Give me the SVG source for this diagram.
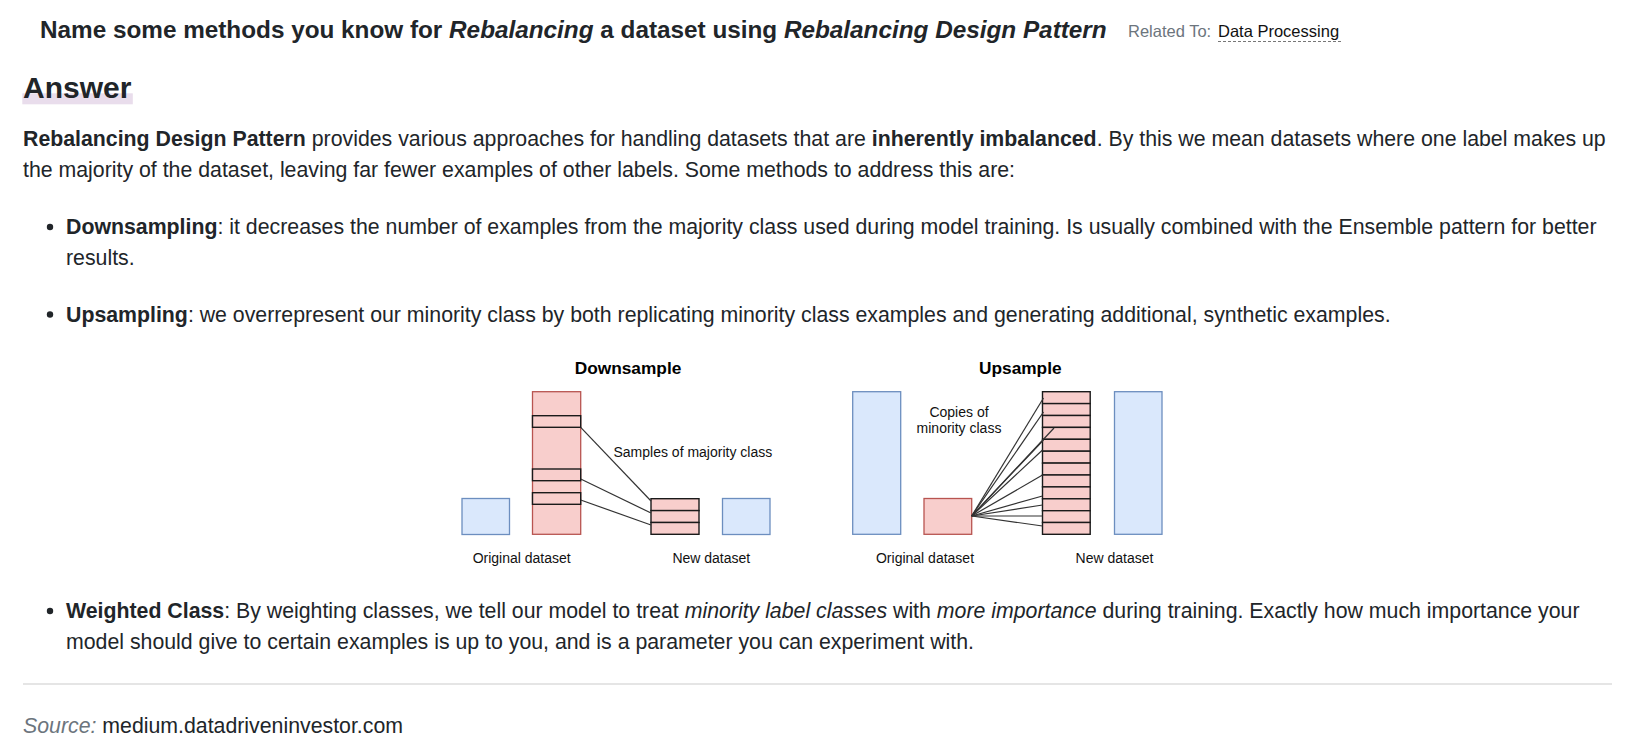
<svg xmlns="http://www.w3.org/2000/svg" width="1636" height="754" viewBox="0 0 1636 754">
<style>
text{font-family:"Liberation Sans",Arial,Helvetica,sans-serif;fill:#222;}
.title{font-size:24.3px;font-weight:bold;fill:#212529;}
.rel{font-size:16.5px;fill:#6c757d;}
.relv{font-size:16.5px;fill:#111;}
.h2{font-size:30px;font-weight:bold;fill:#212529;}
.body{font-size:21.3px;fill:#212529;}
.b{font-weight:bold;}
.i{font-style:italic;}
.src{fill:#6c757d;font-style:italic;}
.dt{font-size:17.3px;font-weight:bold;fill:#000;}
.lbl{font-size:14px;fill:#111;}
.red{fill:#f8cecc;stroke:#b85450;stroke-width:1.3;}
.blue{fill:#dae8fc;stroke:#6c8ebf;stroke-width:1.3;}
.cell{fill:#f8cecc;stroke:#1a1a1a;stroke-width:1.4;}
.con line{stroke:#333;stroke-width:1.2;}
</style>
<rect width="1636" height="754" fill="#fff"/>

<g id="header">
<text class="title" x="40" y="37.5">Name some methods you know for <tspan class="i">Rebalancing</tspan> a dataset using <tspan class="i">Rebalancing Design Pattern</tspan></text>
<text class="rel" x="1128" y="37">Related To:</text>
<text class="relv" x="1218" y="37">Data Processing</text>
<line x1="1218" y1="41.5" x2="1342" y2="41.5" stroke="#777" stroke-width="1" stroke-dasharray="3,2"/>
</g>

<g id="answer-heading">
<rect x="22.3" y="93.3" width="110.5" height="11" fill="#e9ddec"/>
<text class="h2" x="23" y="97.5">Answer</text>
</g>

<g id="intro">
<text class="body" x="23" y="146"><tspan class="b">Rebalancing Design Pattern</tspan> provides various approaches for handling datasets that are <tspan class="b">inherently imbalanced</tspan>. By this we mean datasets where one label makes up</text>
<text class="body" x="23" y="177">the majority of the dataset, leaving far fewer examples of other labels. Some methods to address this are:</text>
</g>

<g id="bullet-downsampling">
<circle cx="50" cy="227" r="3.2" fill="#212529"/>
<text class="body" x="66" y="234"><tspan class="b">Downsampling</tspan>: it decreases the number of examples from the majority class used during model training. Is usually combined with the Ensemble pattern for better</text>
<text class="body" x="66" y="265">results.</text>
</g>

<g id="bullet-upsampling">
<circle cx="50" cy="314.5" r="3.2" fill="#212529"/>
<text class="body" x="66" y="321.5"><tspan class="b">Upsampling</tspan>: we overrepresent our minority class by both replicating minority class examples and generating additional, synthetic examples.</text>
</g>

<g id="diagram">
<g id="downsample">
<text class="dt" x="628" y="374" text-anchor="middle">Downsample</text>
<g id="ds-original-minority"><rect class="blue" x="462" y="498.5" width="47.5" height="36"/></g>
<g id="ds-original-majority">
<rect class="red" x="532.5" y="391.7" width="48.2" height="142.6"/>
<rect class="cell" x="532.5" y="415.7" width="48.2" height="11.6"/>
<rect class="cell" x="532.5" y="469" width="48.2" height="11.7"/>
<rect class="cell" x="532.5" y="492.7" width="48.2" height="11.6"/>
</g>
<g id="ds-new-majority">
<rect class="cell" x="651" y="498.7" width="48" height="11.9"/>
<rect class="cell" x="651" y="510.6" width="48" height="11.9"/>
<rect class="cell" x="651" y="522.5" width="48" height="11.8"/>
</g>
<g id="ds-new-minority"><rect class="blue" x="722.5" y="498.5" width="47.5" height="36"/></g>
<text class="lbl" x="613.5" y="457.3">Samples of majority class</text>
<text class="lbl" x="521.7" y="563.3" text-anchor="middle">Original dataset</text>
<text class="lbl" x="711.3" y="563.3" text-anchor="middle">New dataset</text>
</g>

<g id="upsample">
<text class="dt" x="1020.3" y="374" text-anchor="middle">Upsample</text>
<g id="us-original-majority"><rect class="blue" x="852.7" y="391.7" width="48" height="142.6"/></g>
<g id="us-original-minority"><rect class="red" x="924" y="498.5" width="47.7" height="35.8"/></g>
<g id="us-new-minority">
<rect class="cell" x="1042.5" y="391.7" width="47.7" height="11.9"/>
<rect class="cell" x="1042.5" y="403.6" width="47.7" height="11.9"/>
<rect class="cell" x="1042.5" y="415.5" width="47.7" height="11.9"/>
<rect class="cell" x="1042.5" y="427.4" width="47.7" height="11.9"/>
<rect class="cell" x="1042.5" y="439.3" width="47.7" height="11.9"/>
<rect class="cell" x="1042.5" y="451.2" width="47.7" height="11.9"/>
<rect class="cell" x="1042.5" y="463.1" width="47.7" height="11.9"/>
<rect class="cell" x="1042.5" y="475" width="47.7" height="11.9"/>
<rect class="cell" x="1042.5" y="486.9" width="47.7" height="11.9"/>
<rect class="cell" x="1042.5" y="498.8" width="47.7" height="11.9"/>
<rect class="cell" x="1042.5" y="510.7" width="47.7" height="11.8"/>
<rect class="cell" x="1042.5" y="522.5" width="47.7" height="11.8"/>
</g>
<g id="us-new-majority"><rect class="blue" x="1114.5" y="391.7" width="47.5" height="142.6"/></g>
<text class="lbl" x="959" y="417.3" text-anchor="middle">Copies of</text>
<text class="lbl" x="959" y="433.3" text-anchor="middle">minority class</text>
<text class="lbl" x="925" y="563.3" text-anchor="middle">Original dataset</text>
<text class="lbl" x="1114.5" y="563.3" text-anchor="middle">New dataset</text>
</g>

<g id="connectors" class="con">
<line x1="580.7" y1="427.3" x2="651" y2="501"/>
<line x1="580.7" y1="479" x2="651" y2="513"/>
<line x1="580.7" y1="500" x2="651" y2="525"/>
<line x1="971.7" y1="516" x2="1043.5" y2="398"/>
<line x1="971.7" y1="516" x2="1043.5" y2="412"/>
<line x1="971.7" y1="516" x2="1054" y2="428"/>
<line x1="971.7" y1="516" x2="1043.5" y2="440"/>
<line x1="971.7" y1="516" x2="1042.5" y2="450"/>
<line x1="971.7" y1="516" x2="1042.5" y2="475"/>
<line x1="971.7" y1="516" x2="1042.5" y2="496"/>
<line x1="971.7" y1="516" x2="1042.5" y2="505"/>
<line x1="971.7" y1="516" x2="1042.5" y2="516"/>
<line x1="971.7" y1="516" x2="1042.5" y2="526"/>
</g>
</g>

<g id="bullet-weighted">
<circle cx="50" cy="611" r="3.2" fill="#212529"/>
<text class="body" x="66" y="618"><tspan class="b">Weighted Class</tspan>: By weighting classes, we tell our model to treat <tspan class="i">minority label classes</tspan> with <tspan class="i">more importance</tspan> during training. Exactly how much importance your</text>
<text class="body" x="66" y="648.5">model should give to certain examples is up to you, and is a parameter you can experiment with.</text>
</g>

<g id="footer">
<line x1="23" y1="684" x2="1612" y2="684" stroke="#dcdcdc" stroke-width="1.3"/>
<text class="body" x="23" y="732.5"><tspan class="src">Source:</tspan> medium.datadriveninvestor.com</text>
</g>
</svg>
